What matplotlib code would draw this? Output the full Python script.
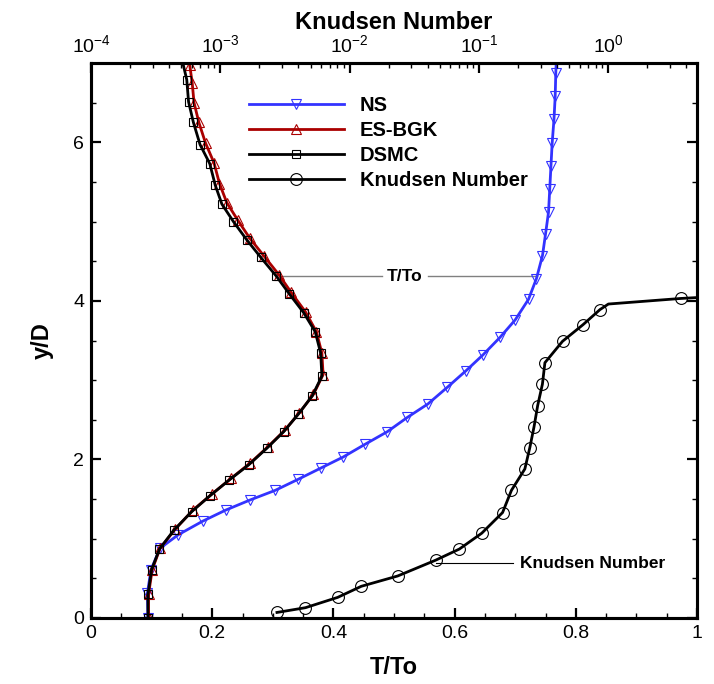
import matplotlib
matplotlib.use("Agg")
import matplotlib.pyplot as plt
from matplotlib.ticker import MultipleLocator, FuncFormatter, LogLocator, NullFormatter

plt.rcParams['font.family'] = ['Liberation Sans', 'DejaVu Sans']
plt.rcParams['mathtext.fontset'] = 'custom'
plt.rcParams['mathtext.rm'] = 'Liberation Sans'
plt.rcParams['mathtext.it'] = 'Liberation Sans'
plt.rcParams['mathtext.default'] = 'regular'

# ---------------- data ----------------
ns_y = [0.0, 0.31, 0.61, 0.88, 1.05, 1.22, 1.36, 1.49, 1.61, 1.75, 1.89, 2.03, 2.19, 2.35,
        2.53, 2.70, 2.91, 3.12, 3.32, 3.54, 3.76, 4.02, 4.28, 4.57, 4.84, 5.12, 5.41, 5.70,
        5.99, 6.29, 6.58, 6.88, 7.05]
ns_t = [0.094, 0.093, 0.099, 0.114, 0.144, 0.184, 0.222, 0.263, 0.304, 0.342, 0.379, 0.416,
        0.452, 0.489, 0.522, 0.556, 0.588, 0.619, 0.647, 0.675, 0.700, 0.722, 0.735, 0.745,
        0.750, 0.755, 0.757, 0.759, 0.761, 0.764, 0.766, 0.767, 0.768]

bgk_y = [0.0, 0.30, 0.61, 0.88, 1.12, 1.36, 1.56, 1.76, 1.95, 2.16, 2.37, 2.59, 2.82, 3.07,
         3.34, 3.61, 3.86, 4.11, 4.33, 4.57, 4.79, 5.02, 5.24, 5.48, 5.74, 5.99, 6.25, 6.50,
         6.75, 6.97, 7.05]
bgk_t = [0.095, 0.095, 0.101, 0.114, 0.139, 0.168, 0.199, 0.231, 0.262, 0.292, 0.320, 0.344,
         0.367, 0.383, 0.381, 0.372, 0.354, 0.330, 0.310, 0.285, 0.262, 0.242, 0.224, 0.212,
         0.203, 0.189, 0.178, 0.170, 0.167, 0.163, 0.162]

dsmc_y = [0.0, 0.30, 0.61, 0.87, 1.11, 1.34, 1.54, 1.74, 1.93, 2.14, 2.35, 2.57, 2.80, 3.05,
          3.34, 3.61, 3.85, 4.09, 4.31, 4.55, 4.77, 5.00, 5.22, 5.46, 5.73, 5.97, 6.25, 6.51,
          6.79, 7.05]
dsmc_t = [0.094, 0.094, 0.100, 0.113, 0.137, 0.166, 0.196, 0.228, 0.260, 0.290, 0.318, 0.342,
          0.365, 0.381, 0.379, 0.370, 0.351, 0.327, 0.306, 0.280, 0.257, 0.235, 0.216, 0.205,
          0.196, 0.180, 0.169, 0.161, 0.158, 0.150]

kn_y = [0.07, 0.13, 0.26, 0.40, 0.53, 0.73, 0.87, 1.07, 1.33, 1.61, 1.88, 2.15, 2.41, 2.68,
        2.95, 3.22, 3.49, 3.70, 3.89, 3.96, 4.03, 4.05]
kn_val = [2.74e-3, 4.55e-3, 8.07e-3, 1.23e-2, 2.35e-2, 4.63e-2, 7.05e-2, 0.105, 0.152, 0.178,
          0.226, 0.247, 0.266, 0.284, 0.309, 0.323, 0.442, 0.637, 0.861, 1.00, 3.61, 6.0]

x_ticks = [0, 0.2, 0.4, 0.6, 0.8, 1.0]
y_ticks = [0, 2, 4, 6]

# ---------------- figure ----------------
fig = plt.figure(figsize=(7.14, 6.84), dpi=100)
ax = fig.add_axes([91/714, 66/684, 606/714, 555/684])
ax2 = ax.twiny()

blue = '#3333ff'
red = '#aa0000'

h_ns, = ax.plot(ns_t, ns_y, color=blue, lw=2.0, marker='v', ms=7.5, mfc='none', mec=blue,
                mew=0.8, markevery=list(range(len(ns_t) - 1)), label='NS', zorder=3)
h_bgk, = ax.plot(bgk_t, bgk_y, color=red, lw=2.0, marker='^', ms=7, mfc='none', mec=red,
                 mew=0.8, markevery=list(range(len(bgk_t) - 1)), label='ES-BGK', zorder=4)
h_dsmc, = ax.plot(dsmc_t, dsmc_y, color='black', lw=2.0, marker='s', ms=6, mfc='none',
                  mec='black', mew=0.8, markevery=list(range(len(dsmc_t) - 1)),
                  label='DSMC', zorder=5)
kn_marks = [i for i in range(len(kn_val)) if i not in (19, 21)]
h_kn, = ax2.plot(kn_val, kn_y, color='black', lw=2.0, marker='o', ms=8.5, mfc='none',
                 mec='black', mew=0.8, markevery=kn_marks, label='Knudsen Number')

# axes limits / scales
ax.set_xlim(0, 1)
ax.set_ylim(0, 7)
ax2.set_xscale('log')
ax2.set_xlim(1e-4, 10 ** 0.685)

ax.xaxis.set_major_locator(MultipleLocator(0.2))
ax.xaxis.set_minor_locator(MultipleLocator(0.05))
ax.yaxis.set_major_locator(MultipleLocator(2))
ax.yaxis.set_minor_locator(MultipleLocator(0.5))
ax.set_xticks(x_ticks)
ax.set_yticks(y_ticks)
ax.xaxis.set_major_formatter(FuncFormatter(lambda v, p: f'{v:g}'))
ax.yaxis.set_major_formatter(FuncFormatter(lambda v, p: f'{v:g}'))

ax2.xaxis.set_major_locator(LogLocator(base=10, numticks=10))
ax2.xaxis.set_minor_locator(LogLocator(base=10, subs=range(2, 10), numticks=20))
ax2.xaxis.set_minor_formatter(NullFormatter())

for a in (ax, ax2):
    for s in a.spines.values():
        s.set_linewidth(2.2)

ax.tick_params(axis='both', which='major', direction='in', length=7, width=1.6,
               labelsize=14, right=True, top=False, pad=5)
ax.tick_params(axis='both', which='minor', direction='in', length=3.5, width=1.0,
               right=True, top=False)
ax2.tick_params(axis='x', which='major', direction='in', length=7, width=1.6,
                labelsize=14, pad=5)
ax2.tick_params(axis='x', which='minor', direction='in', length=3.5, width=1.0)

ax.set_xlabel('T/To', fontsize=17, fontweight='bold', labelpad=10)
ax.set_ylabel('y/D', fontsize=17, fontweight='bold', labelpad=14)
ax2.set_xlabel('Knudsen Number', fontsize=17, fontweight='bold', labelpad=4)

# annotations
ax.plot([0.312, 0.480], [4.31, 4.31], color='#808080', lw=1.0, zorder=2)
ax.plot([0.556, 0.736], [4.31, 4.31], color='#808080', lw=1.0, zorder=2)
ax.text(0.518, 4.31, 'T/To', fontsize=12.5, fontweight='bold', ha='center', va='center')
ax.plot([0.569, 0.696], [0.69, 0.69], color='black', lw=0.8, zorder=2)
ax.text(0.708, 0.69, 'Knudsen Number', fontsize=12.5, fontweight='bold',
        ha='left', va='center')

leg = ax2.legend(handles=[h_ns, h_bgk, h_dsmc, h_kn], loc='upper left',
                 bbox_to_anchor=(0.2607, 0.940), frameon=False, numpoints=1,
                 prop={'size': 14.5, 'weight': 'bold'}, handlelength=4.7,
                 handletextpad=0.8, labelspacing=0.29, borderpad=0, borderaxespad=0)

fig.savefig('out.png', dpi=100)
